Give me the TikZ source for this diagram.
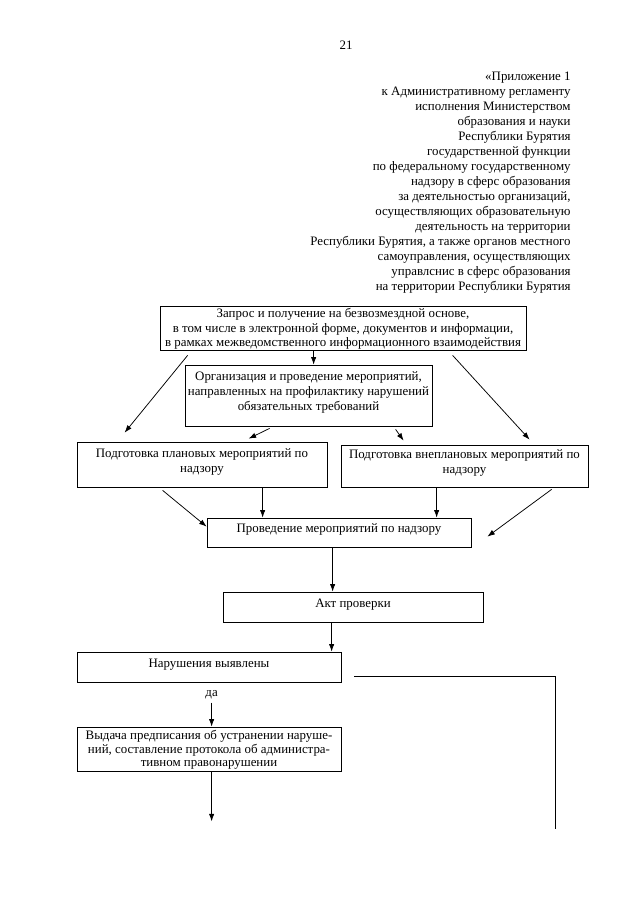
\documentclass[tikz,border=0pt]{standalone}
\usepackage{fontspec}
\setmainfont{Liberation Serif}
\usetikzlibrary{arrows.meta,positioning,calc,fit}

\begin{document}
\begin{tikzpicture}[x=0.93pt, y=-0.93pt,
  font=\fontsize{12}{13.95}\selectfont,
  box/.style={draw, inner sep=0pt},
  txt/.style={anchor=north, align=center, inner sep=0pt, yshift=-#1},
  txt/.default=6.3pt,
  line width=0.7pt, >={Latex[length=7pt,width=5pt]}]
  \useasboundingbox (0,0) rectangle (640,905);
  \node (page) at (346,45) {21};
  \node[anchor=north east, align=right, inner sep=0pt] (appx) at (571,72)
    {«Приложение 1\\к Административному регламенту\\исполнения Министерством\\образования и науки\\Республики Бурятия\\государственной функции\\по федеральному государственному\\надзору в сферс образования\\за деятельностью организаций,\\осуществляющих образовательную\\деятельность на территории\\Республики Бурятия, а также органов местного\\самоуправления, осуществляющих\\управлснис в сферс образования\\на территории Республики Бурятия};
  % boxes
  \node[box, fit={(160,306) (526,350)}, label={[txt=2pt, font=\fontsize{12}{13.6}\selectfont]north:{Запрос и получение на безвозмездной основе,\\в том числе в электронной форме, документов и информации,\\в рамках межведомственного информационного взаимодействия}}] (req) {};
  \node[box, fit={(185,365) (432,426)}, label={[txt]north:{Организация и проведение мероприятий,\\направленных на профилактику нарушений\\обязательных требований}}] (org) {};
  \node[box, fit={(77,442) (327,487)}, label={[txt]north:{Подготовка плановых мероприятий по\\надзору}}] (plan) {};
  \node[box, fit={(341,445) (588,487)}, label={[txt=4.4pt]north:{Подготовка внеплановых мероприятий по\\надзору}}] (unplan) {};
  \node[box, fit={(207,518) (471,547)}, label={[txt=5pt]north:{Проведение мероприятий по надзору}}] (conduct) {};
  \node[box, fit={(223,592) (483,622)}, label={[txt]north:{Акт проверки}}] (act) {};
  \node[box, fit={(77,652) (341,682)}, label={[txt]north:{Нарушения выявлены}}] (found) {};
  \node[box, fit={(77,727) (341,771)}, label={[txt=3pt, font=\fontsize{12}{12.7}\selectfont]north:{Выдача предписания об устранении наруше-\\ний, составление протокола об администра-\\тивном правонарушении}}] (order) {};
  \node (yes) at ($(found.south west)+(135,12)$) {да};
  \coordinate (outyes) at ($(order.south west)+(135,50)$);
  \coordinate (outno) at ($(found.north east)+(214,177)$);
  % arrows
  \draw[->] ($(req.south west)+(154,0)$) -- ($(org.north west)+(129,0)$);
  \draw[->] ($(req.south west)+(28,5)$) -- ($(plan.north west)+(48,-9)$);
  \draw[->] ($(req.south west)+(293,5)$) -- ($(unplan.north west)+(189,-5)$);
  \draw[->] ($(org.south west)+(85,2)$) -- ($(plan.north west)+(172,-3)$);
  \draw[->] ($(org.south west)+(211,3)$) -- ($(unplan.north west)+(63,-4)$);
  \draw[->] ($(plan.south west)+(86,3)$) -- ($(conduct.north west)+(0,9)$);
  \draw[->] ($(plan.south west)+(186,0)$) -- ($(conduct.north west)+(56,0)$);
  \draw[->] ($(unplan.south west)+(96,0)$) -- ($(conduct.north west)+(230,0)$);
  \draw[->] ($(unplan.south west)+(211,2)$) -- ($(conduct.north east)+(16,19)$);
  \draw[->] ($(conduct.south west)+(126,0)$) -- ($(act.north west)+(110,0)$);
  \draw[->] ($(act.south west)+(109,0)$) -- ($(found.north west)+(255,0)$);
  \draw[->] (yes) -- ($(order.north west)+(135,0)$);
  \draw[->] ($(order.south west)+(135,0)$) -- (outyes);
  \draw ($(found.north east)+(13,25)$) -| (outno);
\end{tikzpicture}
\end{document}
